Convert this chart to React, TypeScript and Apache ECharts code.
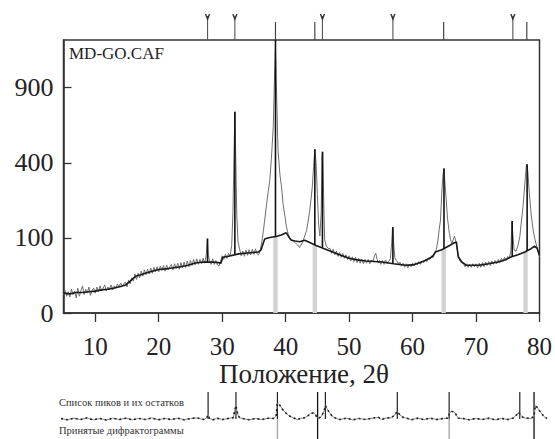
import React, { useEffect, useRef } from "react";
import * as echarts from "echarts";

const xTicks = [10, 20, 30, 40, 50, 60, 70, 80];
const yTickValues = [0, 100, 400, 900];
const X_MIN = 5;
const X_MAX = 80;
const Y_MAX_VALUE = 1322;

const observed: [number, number][] = [
  [5.0, 6], [5.25, 9], [5.5, 5], [5.75, 8], [6.0, 4.5], [6.25, 10], [6.5, 6], [6.75, 8.5], [7.0, 4], [7.25, 11],
  [7.5, 5], [7.75, 9], [8.0, 13], [8.25, 6], [8.5, 10], [8.75, 7], [9.0, 12], [9.25, 5.5], [9.5, 9], [9.75, 11],
  [10.0, 7], [10.25, 12], [10.5, 8], [10.75, 13], [11.0, 9], [11.25, 11], [11.5, 14], [11.75, 8.5], [12.0, 12], [12.25, 10],
  [12.5, 14], [12.75, 9.5], [13.0, 13], [13.25, 11], [13.5, 15], [13.75, 12], [14.0, 16], [14.25, 13], [14.5, 15], [14.75, 17],
  [15.0, 12], [15.25, 19], [15.5, 15], [15.75, 22], [16.0, 18], [16.25, 27], [16.5, 20], [16.75, 28], [17.0, 22], [17.25, 31],
  [17.5, 24], [17.75, 33], [18.0, 26], [18.25, 34], [18.5, 27], [18.75, 36], [19.0, 28], [19.25, 37], [19.5, 30], [19.75, 38],
  [20.0, 30], [20.25, 39], [20.5, 32], [20.75, 40], [21.0, 31], [21.25, 41], [21.5, 33], [21.75, 38], [22.0, 42], [22.25, 33],
  [22.5, 43], [22.75, 35], [23.0, 44], [23.25, 34], [23.5, 45], [23.75, 36], [24.0, 46], [24.25, 37], [24.5, 48], [24.75, 38],
  [25.0, 49], [25.25, 40], [25.5, 51], [25.75, 41], [26.0, 52], [26.25, 42], [26.5, 51], [26.75, 43], [27.0, 53], [27.25, 44],
  [27.5, 60], [27.65, 98], [27.8, 60], [28.0, 50], [28.25, 42], [28.5, 52], [28.75, 42], [29.0, 49], [29.25, 41], [29.5, 39],
  [29.75, 48], [30.0, 58], [30.25, 51], [30.5, 61], [30.75, 53], [31.0, 63], [31.25, 58], [31.5, 80], [31.7, 180], [31.85, 420],
  [32.0, 718], [32.15, 420], [32.3, 170], [32.5, 90], [32.75, 72], [33.0, 58], [33.25, 68], [33.5, 57], [33.75, 70], [34.0, 59],
  [34.25, 71], [34.5, 60], [34.75, 72], [35.0, 61], [35.25, 73], [35.5, 62], [35.75, 60], [36.0, 70], [36.25, 90], [36.5, 120],
  [36.7, 153], [37.0, 210], [37.25, 260], [37.5, 313], [37.75, 420], [38.05, 615], [38.25, 1000], [38.4, 1250], [38.55, 900], [38.8, 470],
  [39.1, 340], [39.35, 282], [39.6, 210], [39.9, 164], [40.1, 135], [40.3, 117], [40.5, 105], [40.75, 98], [41.1, 94], [41.35, 90],
  [41.6, 86], [41.9, 82], [42.2, 76], [42.5, 84], [42.75, 92], [43.0, 105], [43.3, 121], [43.55, 150], [43.8, 187], [44.0, 230],
  [44.2, 282], [44.4, 380], [44.6, 475], [44.8, 400], [45.0, 250], [45.2, 140], [45.4, 105], [45.6, 180], [45.75, 440], [45.85, 461],
  [46.0, 220], [46.15, 95], [46.4, 80], [46.7, 74], [47.0, 74], [47.25, 63], [47.5, 72], [47.75, 60], [48.0, 68], [48.25, 57],
  [48.5, 65], [48.75, 55], [49.0, 63], [49.25, 53], [49.5, 60], [49.75, 51], [50.0, 58], [50.25, 48], [50.5, 56], [50.75, 47],
  [51.0, 55], [51.25, 45], [51.5, 53], [51.75, 44], [52.0, 52], [52.25, 43], [52.5, 51], [52.75, 44], [53.0, 51], [53.25, 43],
  [53.5, 50], [53.75, 47], [54.0, 58], [54.2, 63], [54.4, 52], [54.6, 44], [54.8, 49], [55.0, 42], [55.25, 49], [55.5, 42],
  [55.75, 50], [56.0, 43], [56.25, 48], [56.5, 52], [56.7, 85], [56.85, 131], [57.0, 90], [57.2, 55], [57.4, 49], [57.6, 47],
  [57.8, 41], [58.0, 46], [58.25, 39], [58.5, 44], [58.75, 37], [59.0, 43], [59.25, 36], [59.5, 42], [59.75, 38], [60.0, 44],
  [60.25, 39], [60.5, 45], [60.75, 41], [61.0, 47], [61.25, 42], [61.5, 48], [61.75, 45], [62.0, 51], [62.25, 47], [62.5, 53],
  [62.75, 51], [63.0, 58], [63.25, 55], [63.5, 64], [63.75, 72], [64.0, 94], [64.2, 125], [64.4, 153], [64.6, 255], [64.8, 340],
  [64.95, 371], [65.1, 300], [65.3, 230], [65.5, 160], [65.8, 112], [66.0, 95], [66.2, 86], [66.4, 95], [66.6, 105], [66.8, 92],
  [67.0, 75], [67.2, 58], [67.5, 48], [67.75, 44], [68.0, 44], [68.25, 38], [68.5, 43], [68.75, 37], [69.0, 42], [69.25, 37],
  [69.5, 43], [69.75, 38], [70.0, 43], [70.25, 36], [70.5, 44], [70.75, 37], [71.0, 45], [71.25, 38], [71.5, 46], [71.75, 40],
  [72.0, 47], [72.25, 40], [72.5, 48], [72.75, 42], [73.0, 49], [73.25, 43], [73.5, 51], [73.75, 45], [74.0, 53], [74.25, 47],
  [74.5, 55], [74.75, 49], [75.0, 57], [75.25, 53], [75.5, 70], [75.65, 150], [75.8, 110], [76.0, 70], [76.3, 68], [76.6, 80],
  [76.9, 103], [77.1, 140], [77.4, 200], [77.7, 300], [77.95, 392], [78.15, 360], [78.4, 253], [78.7, 170], [79.0, 122], [79.3, 95],
  [79.6, 77], [79.8, 68], [80.0, 56],
];

const background: [number, number][] = [
  [5, 7], [6, 6.5], [7, 7.5], [8, 7.5], [9, 8], [10, 8.5], [11, 9.5], [12, 10], [13, 11], [14, 12.5],
  [14.8, 14], [15.5, 18], [16.4, 24], [17.2, 26], [18, 28.5], [19, 31], [20, 33.5], [21.5, 35], [23.2, 37.6], [24.5, 40],
  [25.8, 44.4], [27, 46], [28.4, 46], [29.4, 45], [29.8, 44], [30.1, 55], [31, 57], [32.6, 62], [34, 64], [35.7, 66],
  [36.1, 70], [36.7, 97], [37.5, 101], [38.5, 104], [39.3, 108], [40.1, 114], [40.6, 100], [40.9, 94], [41.5, 92], [42.2, 90],
  [43, 94], [43.8, 88], [44.8, 81], [46, 74], [47.4, 66], [48.7, 59], [50, 53], [51.3, 50], [52.6, 48], [53.9, 47],
  [55.2, 46], [57, 43], [58.9, 40.4], [60, 41], [61, 44.4], [62, 49], [63.1, 56], [63.6, 66], [64.6, 71], [65.9, 81.5],
  [66.5, 87], [66.9, 89.6], [67.2, 56], [67.7, 47], [68.5, 40.4], [70.4, 40.4], [72, 43], [73.5, 46], [74.5, 50], [75.6, 56],
  [76.6, 60], [77.7, 66], [78.5, 72], [79.2, 79], [79.6, 75], [80, 59],
];

// position, base intensity, top intensity
const peakSticks: [number, number, number][] = [
  [27.7, 46, 98], [32.0, 60, 718], [38.4, 104, 1400], [44.6, 82, 475], [45.8, 76, 461],
  [56.9, 43, 131], [64.95, 73, 371], [75.7, 56, 150], [78.05, 68, 392],
];

// accepted-pattern bands: position, top intensity
const agBands: [number, number][] = [[38.4, 104], [44.6, 82], [64.9, 73], [77.8, 66]];

const markersA = [27.7, 32.0, 45.8, 56.9, 75.8];
const markersB = [38.4, 44.6, 64.9, 78.0];

const residual: [number, number][] = [
  [5, 0.2], [6, -0.3], [7, 0.3], [8, -0.2], [9, 0.4], [10, -0.3], [11, 0.2], [12, -0.4], [13, 0.3], [14, -0.2],
  [15, 0.3], [16, -0.3], [17, 0.2], [18, -0.2], [19, 0.4], [20, -0.3], [21, 0.2], [22, -0.2], [23, 0.3], [24, -0.3],
  [25, 0.2], [26, 0.4], [27, -0.2], [27.5, 0.5], [27.7, 1.5], [27.9, 0.3], [28.5, -0.3], [29, 0.3], [30, -0.2], [31, 0.3],
  [31.6, 0.5], [31.8, 3], [32.0, 5], [32.2, 2.5], [32.4, 1], [32.6, 0.4], [33, 0.2], [34, -0.3], [35, 0.2], [36, -0.2],
  [37, 0.3], [37.8, 0.2], [38.2, 1], [38.35, 5.5], [38.5, 5.8], [38.8, 5], [39.2, 3.5], [39.6, 2.5], [40, 1.5], [40.5, 0.8],
  [41, 0.3], [41.5, -0.2], [42, 0.3], [42.5, 0.4], [43, 1], [43.5, 2], [44, 2.3], [44.3, 1.5], [44.5, 0.5], [44.8, 0.3],
  [45.2, 1], [45.6, 3], [45.8, 5], [46, 4], [46.4, 2.5], [46.8, 1.2], [47.3, 0.4], [48, -0.2], [49, 0.3], [50, -0.3],
  [51, 0.2], [52, -0.2], [53, 0.3], [54, 0.6], [54.5, -0.2], [55, 0.3], [56, 0.5], [56.5, 1.5], [56.9, 2.8], [57.3, 1.5],
  [57.8, 0.6], [58.5, 0.2], [59, -0.3], [60, 0.3], [61, -0.2], [62, 0.3], [63, -0.2], [64, 0.2], [64.7, 0.3], [65.0, 2.5],
  [65.3, 2.8], [65.7, 2.6], [66, 1.5], [66.3, 0.3], [67, 0.2], [68, -0.3], [69, 0.2], [70, -0.2], [71, 0.3], [72, -0.3],
  [73, 0.2], [74, -0.2], [74.8, 0.4], [75.3, 1.5], [75.6, 2.5], [75.9, 1.5], [76.3, 0.6], [76.8, 0.3], [77.5, 0.2], [78, 1],
  [78.2, 5], [78.6, 4], [79, 2.5], [79.5, 1], [80, 0.2],
];
const RESID_STICK = 10;
const RESID_MIN = -7.4;
const residSticks = [27.7, 32.0, 38.4, 45.8, 56.9, 64.9, 75.8];
const acceptedGray = [38.4, 64.9];
const acceptedBlack = [44.6, 78.0];

const SERIF = "Liberation Serif";

export default function App() {
  const ref = useRef<HTMLDivElement>(null);

  useEffect(() => {
    if (!ref.current) return;
    const chart = echarts.init(ref.current, null, { renderer: "svg" });
    const sq = (v: number) => Math.sqrt(Math.max(v, 0));
    const yMax = sq(Y_MAX_VALUE);
    const yTicks = yTickValues.map(sq);

    const option: any = {
      animation: false,
      backgroundColor: "#ffffff",
      grid: [
        { left: 63.5, right: 11.5, top: 40, bottom: 126, show: true, borderColor: "#333", borderWidth: 1.5 },
        { left: 61, right: 8, top: 392, height: 47, show: false },
      ],
      xAxis: [
        {
          type: "value", gridIndex: 0, min: X_MIN, max: X_MAX,
          axisLine: { show: true, lineStyle: { color: "#333", width: 1.5 } },
          axisTick: { show: true, inside: false, length: 9, customValues: xTicks, lineStyle: { color: "#333", width: 1.3 } },
          axisLabel: { customValues: xTicks, fontSize: 25, fontFamily: SERIF, color: "#222", margin: 21 },
          splitLine: { show: false },
        },
        {
          type: "value", gridIndex: 1, min: X_MIN, max: X_MAX, show: false,
          splitLine: { show: false },
        },
      ],
      yAxis: [
        {
          type: "value", gridIndex: 0, min: 0, max: yMax,
          axisLine: { show: true, lineStyle: { color: "#333", width: 1.5 } },
          axisTick: { show: true, inside: true, length: 8, customValues: yTicks, lineStyle: { color: "#333", width: 1.3 } },
          axisLabel: {
            customValues: yTicks, fontSize: 26, fontFamily: SERIF, color: "#222", margin: 10,
            formatter: (v: number) => String(Math.round(v * v)),
          },
          splitLine: { show: false },
        },
        {
          type: "value", gridIndex: 1, min: RESID_MIN, max: RESID_STICK, show: false,
          splitLine: { show: false },
        },
      ],
      series: [
        {
          type: "custom", name: "bands", xAxisIndex: 0, yAxisIndex: 0, clip: true,
          data: agBands.map(([x, t]) => [x, sq(t)]),
          renderItem: (_p: any, api: any) => {
            const x = api.value(0);
            const t = api.value(1);
            const a = api.coord([x - 0.35, t]);
            const b = api.coord([x + 0.35, 0]);
            return {
              type: "rect",
              shape: { x: a[0], y: a[1], width: b[0] - a[0], height: b[1] - a[1] },
              style: { fill: "#d2d2d2" },
            };
          },
        },
        {
          type: "line", name: "observed", xAxisIndex: 0, yAxisIndex: 0,
          data: observed.map(([x, v]) => [x, sq(v)]),
          showSymbol: false, symbol: "none",
          lineStyle: { color: "#6e6e6e", width: 1 },
          z: 3,
        },
        {
          type: "line", name: "background", xAxisIndex: 0, yAxisIndex: 0,
          data: background.map(([x, v]) => [x, sq(v)]),
          showSymbol: false, symbol: "none",
          lineStyle: { color: "#1a1a1a", width: 1.6 },
          z: 4,
        },
        {
          type: "custom", name: "peaks", xAxisIndex: 0, yAxisIndex: 0, clip: true, z: 5,
          data: peakSticks.map(([x, b, t]) => [x, sq(b), sq(t)]),
          renderItem: (_p: any, api: any) => {
            const p1 = api.coord([api.value(0), api.value(1)]);
            const p2 = api.coord([api.value(0), api.value(2)]);
            return {
              type: "line",
              shape: { x1: p1[0], y1: p1[1], x2: p2[0], y2: p2[1] },
              style: { stroke: "#111", lineWidth: 1.6 },
            };
          },
        },
        {
          type: "custom", name: "markersA", xAxisIndex: 0, yAxisIndex: 0, clip: false, z: 5,
          data: markersA.map((x) => [x, yMax]),
          renderItem: (_p: any, api: any) => {
            const p = api.coord([api.value(0), api.value(1)]);
            return {
              type: "group",
              children: [
                { type: "line", shape: { x1: p[0], y1: p[1], x2: p[0], y2: p[1] - 24 }, style: { stroke: "#555", lineWidth: 1.1 } },
                { type: "polyline", shape: { points: [[p[0] - 2, p[1] - 26], [p[0], p[1] - 21], [p[0] + 2, p[1] - 26]] }, style: { stroke: "#333", lineWidth: 1.4, fill: "none" } },
              ],
            };
          },
        },
        {
          type: "custom", name: "markersB", xAxisIndex: 0, yAxisIndex: 0, clip: false, z: 5,
          data: markersB.map((x) => [x, yMax]),
          renderItem: (_p: any, api: any) => {
            const p = api.coord([api.value(0), api.value(1)]);
            return {
              type: "line",
              shape: { x1: p[0], y1: p[1], x2: p[0], y2: p[1] - 18 },
              style: { stroke: "#444", lineWidth: 1.2 },
            };
          },
        },
        {
          type: "line", name: "residual", xAxisIndex: 1, yAxisIndex: 1,
          data: residual, showSymbol: false, symbol: "none",
          lineStyle: { color: "#8a8a8a", width: 1 },
        },
        {
          type: "line", name: "residualDots", xAxisIndex: 1, yAxisIndex: 1,
          data: residual, showSymbol: false, symbol: "none",
          lineStyle: { color: "#222", width: 1.6, type: [2, 3] },
        },
        {
          type: "custom", name: "residSticks", xAxisIndex: 1, yAxisIndex: 1, clip: false,
          data: residSticks.map((x) => [x, RESID_STICK]),
          renderItem: (_p: any, api: any) => {
            const a = api.coord([api.value(0), 0]);
            const b = api.coord([api.value(0), api.value(1)]);
            return { type: "line", shape: { x1: a[0], y1: a[1], x2: b[0], y2: b[1] }, style: { stroke: "#222", lineWidth: 1.2 } };
          },
        },
        {
          type: "custom", name: "acceptedGray", xAxisIndex: 1, yAxisIndex: 1, clip: false,
          data: acceptedGray.map((x) => [x, RESID_MIN]),
          renderItem: (_p: any, api: any) => {
            const a = api.coord([api.value(0), 0]);
            const b = api.coord([api.value(0), api.value(1)]);
            return { type: "line", shape: { x1: a[0], y1: a[1], x2: b[0], y2: b[1] }, style: { stroke: "#aaa", lineWidth: 1.4 } };
          },
        },
        {
          type: "custom", name: "acceptedBlack", xAxisIndex: 1, yAxisIndex: 1, clip: false,
          data: acceptedBlack.map((x) => [x, RESID_MIN, RESID_STICK]),
          renderItem: (_p: any, api: any) => {
            const a = api.coord([api.value(0), api.value(2)]);
            const b = api.coord([api.value(0), api.value(1)]);
            return { type: "line", shape: { x1: a[0], y1: a[1], x2: b[0], y2: b[1] }, style: { stroke: "#111", lineWidth: 1.3 } };
          },
        },
      ],
      graphic: [
        { type: "text", x: 69, y: 53, style: { text: "MD-GO.CAF", fontSize: 17, fontFamily: SERIF, fill: "#222", textVerticalAlign: "middle" } },
        { type: "text", x: 304, y: 374, style: { text: "Положение, 2θ", fontSize: 27, fontFamily: SERIF, fill: "#222", textAlign: "center", textVerticalAlign: "middle" } },
        { type: "text", x: 59, y: 402, style: { text: "Список пиков и их остатков", fontSize: 10.5, fontFamily: SERIF, fill: "#333", textVerticalAlign: "middle" } },
        { type: "text", x: 59, y: 430, style: { text: "Принятые дифрактограммы", fontSize: 10.5, fontFamily: SERIF, fill: "#333", textVerticalAlign: "middle" } },
      ],
    };
    chart.setOption(option);
    return () => chart.dispose();
  }, []);

  return <div ref={ref} style={{ width: 555, height: 439, position: "absolute", left: 0, top: 0 }} />;
}
